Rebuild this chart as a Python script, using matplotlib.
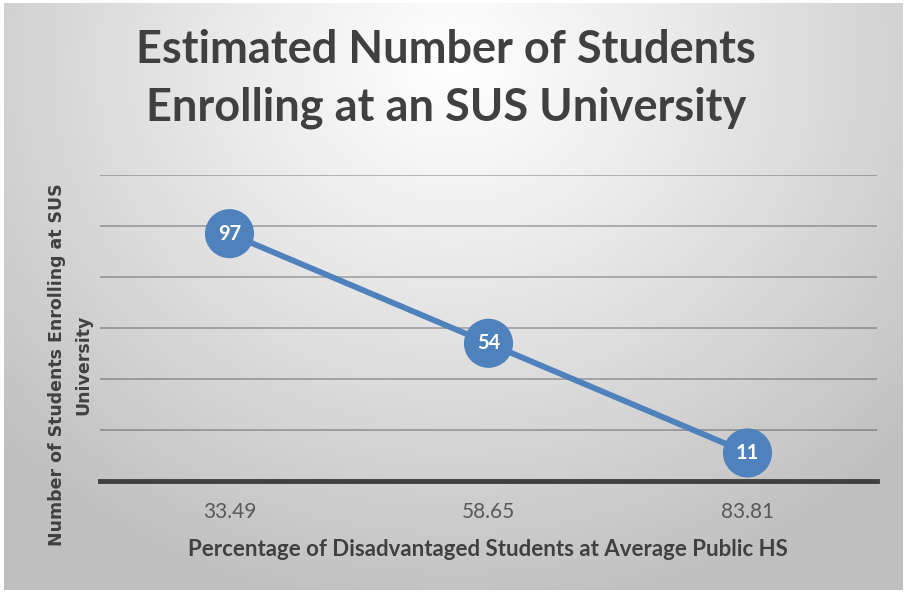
import numpy as np
import matplotlib
matplotlib.use("Agg")
import matplotlib.pyplot as plt

categories = ["33.49", "58.65", "83.81"]
values = [97, 54, 11]
title = "Estimated Number of Students\nEnrolling at an SUS University"
xlabel = "Percentage of Disadvantaged Students at Average Public HS"
ylabel = "Number of Students Enrolling at SUS\nUniversity"

W, H = 906, 593
fig = plt.figure(figsize=(W / 100, H / 100), dpi=100)
fig.patch.set_facecolor("white")

# background radial gradient panel
bg = fig.add_axes([4 / W, 3 / H, 899 / W, 587 / H])
yy, xx = np.mgrid[0:587, 0:899]
cx, cy = 450, 60
d = np.sqrt(((xx - cx) / 620) ** 2 + ((yy - cy) / 560) ** 2)
d = np.clip(d, 0, 1)
lum = 1.0 - 0.25 * d ** 1.1
img = np.dstack([lum, lum, lum])
bg.imshow(img, aspect="auto", interpolation="bilinear")
bg.set_axis_off()

ax = fig.add_axes([100 / W, (H - 481) / H, 777 / W, 306 / H])
ax.patch.set_alpha(0)
x = np.arange(len(categories))
ax.set_xlim(-0.5, len(categories) - 0.5)
ax.set_ylim(0, 120)
for gy in range(20, 121, 20):
    ax.axhline(gy, color="black", alpha=0.28, lw=1.3, zorder=1)
ax.axhline(0, color="#404040", lw=3.5, zorder=2, clip_on=False)
ax.plot(x, values, color="#4F81BD", lw=4.2, zorder=3, solid_capstyle="round")
ax.scatter(x, values, s=1250, color="#4F81BD", zorder=4, edgecolors="none")
for xi, v in zip(x, values):
    ax.text(xi, v, str(v), ha="center", va="center", color="white",
            fontsize=14.5, fontweight="bold", family="Lato", zorder=5)
for s in ax.spines.values():
    s.set_visible(False)
ax.set_yticks([])
ax.set_xticks(x)
ax.set_xticklabels(categories, fontsize=15, color="#595959", family="Lato")
ax.tick_params(axis="x", length=0, pad=15)

fig.text(446 / W, 1 - 79 / H, title, ha="center", va="center", fontsize=32.5,
         fontweight="bold", color="#404040", family="Lato", linespacing=1.45)
fig.text(488 / W, 1 - 550 / H, xlabel, ha="center", va="center", fontsize=16,
         fontweight="bold", color="#404040", family="Lato")
fig.text(70 / W, 1 - 365 / H, ylabel, ha="center", va="center", rotation=90,
         fontsize=12.5, fontweight="bold", color="#404040", family="DejaVu Sans",
         linespacing=1.6)

fig.savefig("out.png", dpi=100, facecolor="white")
